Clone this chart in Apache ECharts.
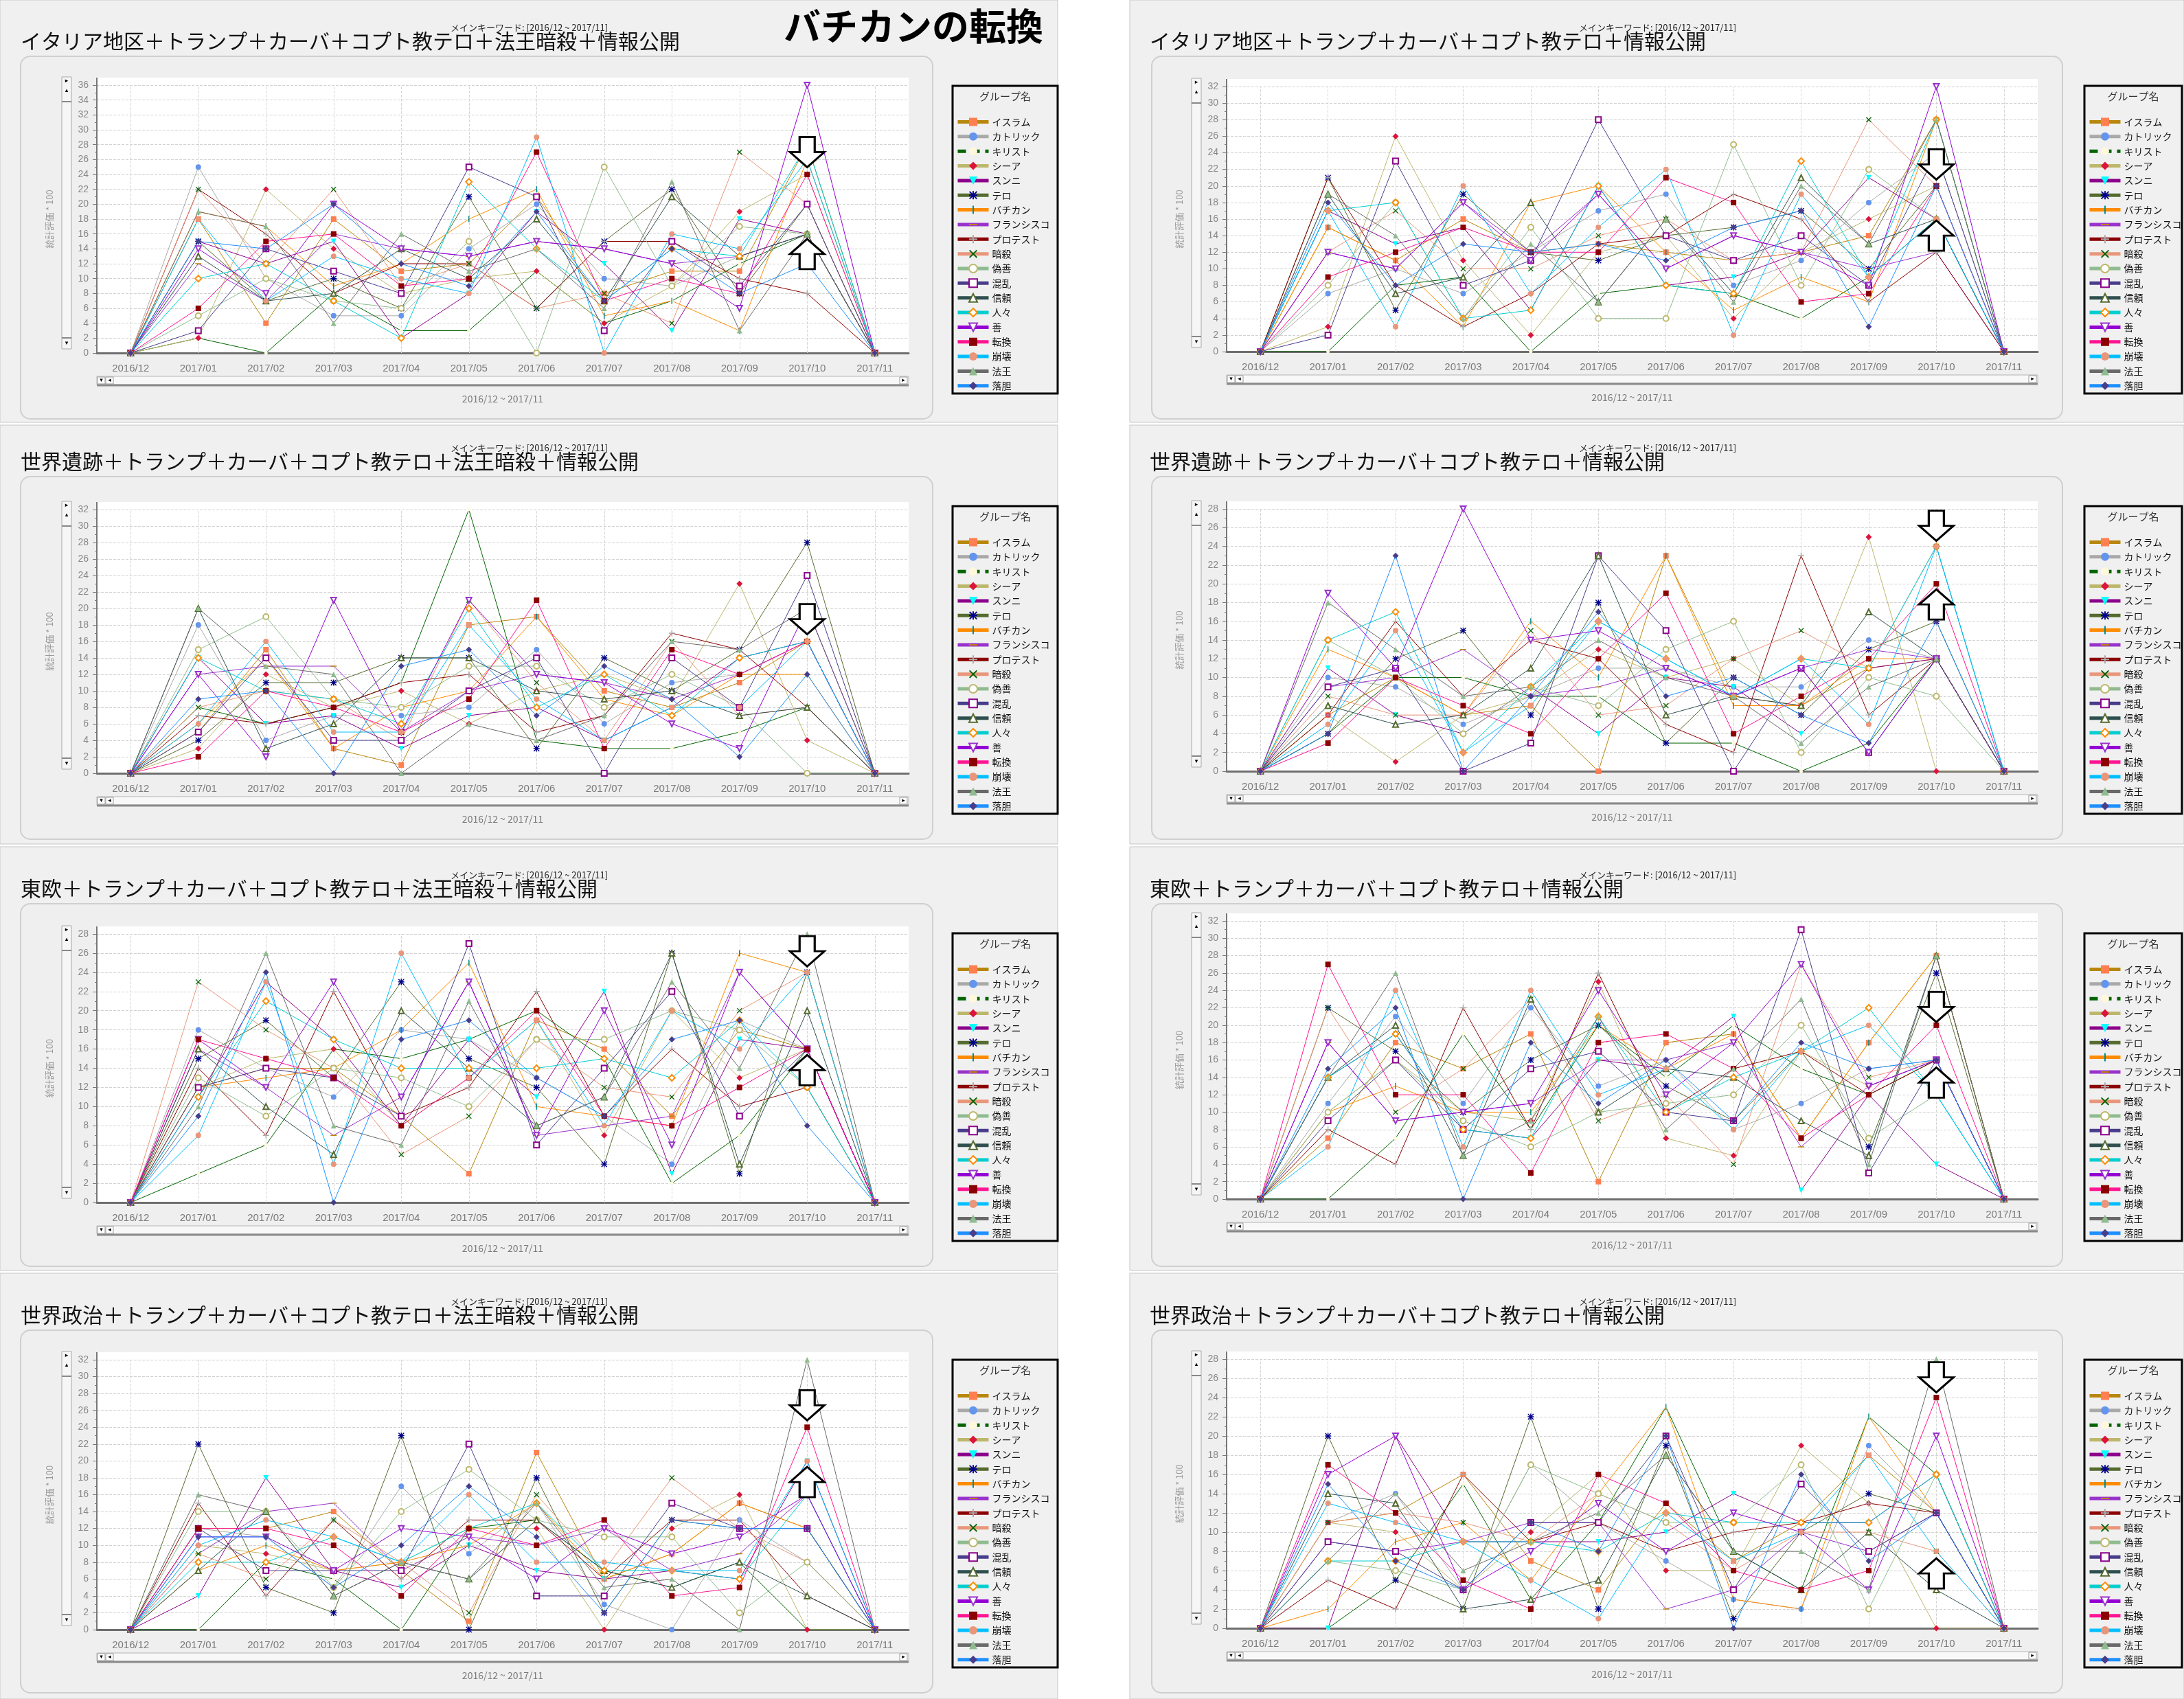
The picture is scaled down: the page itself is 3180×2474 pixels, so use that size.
<!DOCTYPE html>
<html><head><meta charset="utf-8">
<script src="https://cdn.jsdelivr.net/npm/echarts@6/dist/echarts.min.js"></script>
<style>html,body{margin:0;padding:0;background:#fff}#c{width:3180px;height:2474px}</style>
</head><body><div id="c"></div>
<script>
const months = ['2016/12','2017/01','2017/02','2017/03','2017/04','2017/05','2017/06','2017/07','2017/08','2017/09','2017/10','2017/11'];
const groupNames = ['イスラム','カトリック','キリスト','シーア','スンニ','テロ','バチカン','フランシスコ','プロテスト','暗殺','偽善','混乱','信頼','人々','善','転換','崩壊','法王','落胆'];
const panelTitles = [
 'イタリア地区＋トランプ＋カーバ＋コプト教テロ＋法王暗殺＋情報公開',
 'イタリア地区＋トランプ＋カーバ＋コプト教テロ＋情報公開',
 '世界遺跡＋トランプ＋カーバ＋コプト教テロ＋法王暗殺＋情報公開',
 '世界遺跡＋トランプ＋カーバ＋コプト教テロ＋情報公開',
 '東欧＋トランプ＋カーバ＋コプト教テロ＋法王暗殺＋情報公開',
 '東欧＋トランプ＋カーバ＋コプト教テロ＋情報公開',
 '世界政治＋トランプ＋カーバ＋コプト教テロ＋法王暗殺＋情報公開',
 '世界政治＋トランプ＋カーバ＋コプト教テロ＋情報公開'];
const mainTitle = 'バチカンの転換';
const keywordText = 'メインキーワード: [2016/12 ~ 2017/11]';
const yAxisTitle = '統計評価 * 100';
const xAxisTitle = '2016/12 ~ 2017/11';
const yTopTick = [36,32,32,28,28,32,32,28];
const arrowDown = [27,22.6,18.7,26.2,26.2,22.1,26.6,26.1];
const arrowUp = [13.3,14.0,null,17.8,13.8,13.4,17.5,5.7];

// Panel 1
const p1_islam=[0,18,4,18,11,12,21,8,11,11,28,0];
const p1_catholic=[0,25,10,5,5,14,20,10,9,13,16,0];
const p1_christ=[0,2,0,8,3,3,11,4,7,12,16,0];
const p1_shia=[0,2,22,14,8,10,11,4,9,19,24,0];
const p1_sunni=[0,15,12,15,2,8,19,12,3,18,16,0];
const p1_terror=[0,15,7,10,6,21,6,15,22,8,20,0];
const p1_vatican=[0,19,17,9,12,18,22,5,7,3,26,0];
const p1_francis=[0,12,7,16,14,13,15,14,12,13,16,0];
const p1_protest=[0,22,16,8,12,12,6,15,15,10,8,0];
const p1_assassin=[0,22,12,22,9,12,6,8,4,27,20,0];
const p1_hypocrisy=[0,5,10,7,6,15,0,25,9,17,16,0];
const p1_chaos=[0,3,14,11,8,25,21,3,15,9,20,0];
const p1_trust=[0,13,7,8,14,10,18,7,21,13,16,0];
const p1_people=[0,10,12,7,2,23,14,7,14,13,28,0];
const p1_good=[0,14,8,20,14,13,15,14,12,6,36,0];
const p1_turn=[0,6,15,16,9,10,27,7,10,8,24,0];
const p1_collapse=[0,18,7,13,10,8,29,0,16,14,26,0];
const p1_pope=[0,19,17,4,16,11,14,6,23,3,16,0];
const p1_despair=[0,15,14,20,12,9,19,7,14,8,12,0];
// Panel 2
const p2_islam=[0,15,11,16,12,13,12,11,12,14,28,0];
const p2_catholic=[0,7,10,7,12,17,19,8,11,18,24,0];
const p2_christ=[0,0,8,9,0,7,8,7,4,9,16,0];
const p2_shia=[0,3,26,11,2,12,14,4,12,16,20,0];
const p2_sunni=[0,17,13,15,5,20,8,9,12,21,16,0];
const p2_terror=[0,21,5,19,12,11,14,15,17,10,20,0];
const p2_vatican=[0,15,11,3,18,20,12,5,9,6,28,0];
const p2_francis=[0,12,10,18,12,19,10,14,12,10,12,0];
const p2_protest=[0,21,8,3,7,13,14,19,16,6,12,0];
const p2_assassin=[0,12,17,10,10,14,16,11,12,28,20,0];
const p2_hypocrisy=[0,8,18,4,15,4,4,25,8,22,16,0];
const p2_chaos=[0,2,23,8,11,28,14,11,14,8,24,0];
const p2_trust=[0,19,7,9,18,6,16,7,21,13,16,0];
const p2_people=[0,17,18,4,5,20,8,7,23,9,28,0];
const p2_good=[0,12,10,18,11,19,10,14,12,8,32,0];
const p2_turn=[0,9,12,15,12,12,21,18,6,7,20,0];
const p2_collapse=[0,17,3,20,7,15,22,2,19,9,16,0];
const p2_pope=[0,19,14,4,13,6,16,6,20,13,28,0];
const p2_despair=[0,18,8,13,12,13,11,15,17,3,20,0];
// Panel 3
const p3_islam=[0,5,15,3,1,18,19,10,8,11,16,0];
const p3_catholic=[0,18,4,7,7,8,15,6,11,12,16,0];
const p3_christ=[0,8,6,8,11,32,4,3,3,5,8,0];
const p3_shia=[0,3,12,8,10,6,10,12,9,23,4,0];
const p3_sunni=[0,14,6,7,3,7,8,4,8,14,16,0];
const p3_terror=[0,4,11,11,14,14,3,14,10,15,28,0];
const p3_vatican=[0,6,14,3,8,10,19,9,7,12,12,0];
const p3_francis=[0,12,13,13,5,10,12,11,9,12,16,0];
const p3_protest=[0,7,6,8,11,12,5,7,17,15,8,0];
const p3_assassin=[0,8,10,9,4,21,11,4,16,7,8,0];
const p3_hypocrisy=[0,15,19,9,8,13,13,8,12,8,0,0];
const p3_chaos=[0,5,14,4,4,10,14,0,14,8,24,0];
const p3_trust=[0,20,3,6,14,14,10,9,10,7,8,0];
const p3_people=[0,14,10,9,6,20,8,12,7,14,16,0];
const p3_good=[0,12,2,21,5,21,12,11,6,3,20,0];
const p3_turn=[0,2,10,8,5,9,21,3,15,12,16,0];
const p3_collapse=[0,6,16,5,5,18,9,4,8,8,16,0];
const p3_pope=[0,20,13,12,0,6,4,7,16,15,20,0];
const p3_despair=[0,9,10,0,13,15,7,13,9,2,12,0];
// Panel 4
const p4_islam=[0,6,10,6,7,0,23,8,7,11,12,0];
const p4_catholic=[0,10,9,5,8,11,11,9,9,14,12,0];
const p4_christ=[0,4,10,10,8,8,3,3,0,3,12,0];
const p4_shia=[0,6,1,6,8,13,10,12,7,25,0,0];
const p4_sunni=[0,11,6,4,9,4,10,9,4,11,12,0];
const p4_terror=[0,4,12,15,6,18,3,10,6,13,16,0];
const p4_vatican=[0,13,10,6,16,10,23,7,7,12,12,0];
const p4_francis=[0,9,10,13,8,9,11,8,11,13,12,0];
const p4_protest=[0,6,16,8,14,12,5,2,23,6,12,0];
const p4_assassin=[0,8,6,6,15,6,7,12,15,11,24,0];
const p4_hypocrisy=[0,14,10,4,9,7,13,16,2,10,8,0];
const p4_chaos=[0,9,11,0,3,23,15,0,11,2,12,0];
const p4_trust=[0,7,5,6,11,23,6,8,7,17,12,0];
const p4_people=[0,14,17,2,9,16,12,8,12,11,24,0];
const p4_good=[0,19,11,28,14,15,11,8,11,2,12,0];
const p4_turn=[0,3,10,7,4,12,19,4,8,12,20,0];
const p4_collapse=[0,5,15,2,7,16,12,8,12,5,24,0];
const p4_pope=[0,18,13,8,9,14,10,8,3,9,12,0];
const p4_despair=[0,4,23,0,8,17,8,10,6,3,16,0];
// Panel 5
const p5_islam=[0,12,14,14,9,3,19,16,9,18,16,0];
const p5_catholic=[0,18,14,11,18,17,13,9,4,19,16,0];
const p5_christ=[0,3,6,16,15,17,20,15,2,7,16,0];
const p5_shia=[0,12,15,16,8,13,19,7,20,13,16,0];
const p5_sunni=[0,11,23,17,8,17,11,22,3,17,16,0];
const p5_terror=[0,15,19,13,23,15,12,4,26,3,24,0];
const p5_vatican=[0,12,13,14,18,25,10,9,8,26,24,0];
const p5_francis=[0,16,12,7,11,23,7,8,9,24,16,0];
const p5_protest=[0,14,7,22,9,12,22,9,16,10,12,0];
const p5_assassin=[0,23,18,14,5,9,17,12,11,20,24,0];
const p5_hypocrisy=[0,13,9,14,13,10,17,17,20,18,12,0];
const p5_chaos=[0,12,14,13,9,27,6,14,22,9,16,0];
const p5_trust=[0,16,10,5,20,14,8,11,26,4,20,0];
const p5_people=[0,11,21,17,14,14,14,15,13,19,12,0];
const p5_good=[0,17,12,23,11,23,7,20,6,24,16,0];
const p5_turn=[0,17,15,13,8,13,20,9,8,12,16,0];
const p5_collapse=[0,7,23,4,26,13,19,8,20,16,24,0];
const p5_pope=[0,10,26,8,6,21,8,11,23,14,28,0];
const p5_despair=[0,9,24,0,17,19,13,9,17,19,8,0];
// Panel 6
const p6_islam=[0,7,18,15,19,2,18,19,7,18,28,0];
const p6_catholic=[0,11,21,11,22,13,16,8,11,15,16,0];
const p6_christ=[0,0,7,19,8,20,14,20,15,12,16,0];
const p6_shia=[0,10,16,10,9,25,7,5,17,13,16,0];
const p6_sunni=[0,14,19,8,7,16,15,21,1,12,4,0];
const p6_terror=[0,22,17,10,16,20,13,9,17,6,26,0];
const p6_vatican=[0,10,13,10,10,20,15,19,7,18,28,0];
const p6_francis=[0,18,9,10,11,16,16,18,6,13,16,0];
const p6_protest=[0,8,4,22,8,26,10,15,17,12,16,0];
const p6_assassin=[0,22,10,15,23,9,12,4,27,14,16,0];
const p6_hypocrisy=[0,10,16,9,6,10,11,12,20,7,12,0];
const p6_chaos=[0,9,16,8,15,17,10,9,31,3,16,0];
const p6_trust=[0,14,20,5,23,10,15,14,9,5,28,0];
const p6_people=[0,14,19,8,7,21,10,14,17,22,12,0];
const p6_good=[0,18,9,10,11,24,12,18,27,13,16,0];
const p6_turn=[0,27,12,12,3,18,19,15,7,12,20,0];
const p6_collapse=[0,6,24,6,24,12,15,8,17,20,12,0];
const p6_pope=[0,14,26,5,9,21,8,15,23,4,28,0];
const p6_despair=[0,15,22,0,18,11,16,9,18,15,16,0];
// Panel 7
const p7_islam=[0,12,12,14,7,1,21,6,9,15,12,0];
const p7_catholic=[0,12,11,5,17,9,15,3,0,13,8,0];
const p7_christ=[0,0,8,6,0,12,13,7,5,8,0,0];
const p7_shia=[0,10,9,7,8,12,12,0,12,16,0,0];
const p7_sunni=[0,4,18,7,5,10,7,6,7,6,20,0];
const p7_terror=[0,22,5,2,23,0,18,2,13,12,12,0];
const p7_vatican=[0,7,10,7,8,10,15,6,9,15,12,0];
const p7_francis=[0,9,14,15,7,11,10,12,7,9,16,0];
const p7_protest=[0,15,4,13,6,13,13,6,13,13,4,0];
const p7_assassin=[0,9,6,13,8,2,16,7,18,12,8,0];
const p7_hypocrisy=[0,14,14,5,14,19,13,11,11,2,8,0];
const p7_chaos=[0,12,7,7,7,22,4,4,15,12,12,0];
const p7_trust=[0,7,14,4,8,6,13,7,5,8,4,0];
const p7_people=[0,8,8,11,8,12,15,7,7,6,16,0];
const p7_good=[0,11,11,7,12,11,6,12,9,11,16,0];
const p7_turn=[0,12,12,10,4,12,10,13,4,5,24,0];
const p7_collapse=[0,10,13,11,8,16,8,8,7,7,20,0];
const p7_pope=[0,16,14,4,8,6,15,5,6,0,32,0];
const p7_despair=[0,11,11,5,10,17,11,2,13,12,12,0];
// Panel 8
const p8_islam=[0,11,12,16,7,4,13,7,11,18,12,0];
const p8_catholic=[0,11,14,4,17,11,7,3,2,19,12,0];
const p8_christ=[0,0,5,15,3,11,23,8,4,22,16,0];
const p8_shia=[0,11,10,4,10,16,6,6,19,13,0,0];
const p8_sunni=[0,0,20,9,9,9,10,14,11,11,16,0];
const p8_terror=[0,20,5,2,22,2,19,1,10,14,12,0];
const p8_vatican=[0,2,9,11,5,14,23,3,2,22,12,0];
const p8_francis=[0,9,8,9,11,11,2,4,10,8,12,0];
const p8_protest=[0,5,2,16,9,11,8,10,11,13,12,0];
const p8_assassin=[0,11,12,11,9,14,11,6,10,10,8,0];
const p8_hypocrisy=[0,7,6,4,17,14,11,11,17,2,16,0];
const p8_chaos=[0,9,8,4,11,11,20,4,15,8,12,0];
const p8_trust=[0,14,13,2,3,5,18,8,4,10,4,0];
const p8_people=[0,7,7,9,9,8,12,11,11,11,16,0];
const p8_good=[0,16,20,4,8,13,8,12,10,4,20,0];
const p8_turn=[0,17,12,5,2,16,13,6,4,6,24,0];
const p8_collapse=[0,13,11,9,5,1,12,7,10,18,8,0];
const p8_pope=[0,7,14,6,9,12,18,8,8,4,28,0];
const p8_despair=[0,15,7,4,11,8,20,0,16,7,12,0];

const panelData = [
 [p1_islam,p1_catholic,p1_christ,p1_shia,p1_sunni,p1_terror,p1_vatican,p1_francis,p1_protest,p1_assassin,p1_hypocrisy,p1_chaos,p1_trust,p1_people,p1_good,p1_turn,p1_collapse,p1_pope,p1_despair],
 [p2_islam,p2_catholic,p2_christ,p2_shia,p2_sunni,p2_terror,p2_vatican,p2_francis,p2_protest,p2_assassin,p2_hypocrisy,p2_chaos,p2_trust,p2_people,p2_good,p2_turn,p2_collapse,p2_pope,p2_despair],
 [p3_islam,p3_catholic,p3_christ,p3_shia,p3_sunni,p3_terror,p3_vatican,p3_francis,p3_protest,p3_assassin,p3_hypocrisy,p3_chaos,p3_trust,p3_people,p3_good,p3_turn,p3_collapse,p3_pope,p3_despair],
 [p4_islam,p4_catholic,p4_christ,p4_shia,p4_sunni,p4_terror,p4_vatican,p4_francis,p4_protest,p4_assassin,p4_hypocrisy,p4_chaos,p4_trust,p4_people,p4_good,p4_turn,p4_collapse,p4_pope,p4_despair],
 [p5_islam,p5_catholic,p5_christ,p5_shia,p5_sunni,p5_terror,p5_vatican,p5_francis,p5_protest,p5_assassin,p5_hypocrisy,p5_chaos,p5_trust,p5_people,p5_good,p5_turn,p5_collapse,p5_pope,p5_despair],
 [p6_islam,p6_catholic,p6_christ,p6_shia,p6_sunni,p6_terror,p6_vatican,p6_francis,p6_protest,p6_assassin,p6_hypocrisy,p6_chaos,p6_trust,p6_people,p6_good,p6_turn,p6_collapse,p6_pope,p6_despair],
 [p7_islam,p7_catholic,p7_christ,p7_shia,p7_sunni,p7_terror,p7_vatican,p7_francis,p7_protest,p7_assassin,p7_hypocrisy,p7_chaos,p7_trust,p7_people,p7_good,p7_turn,p7_collapse,p7_pope,p7_despair],
 [p8_islam,p8_catholic,p8_christ,p8_shia,p8_sunni,p8_terror,p8_vatican,p8_francis,p8_protest,p8_assassin,p8_hypocrisy,p8_chaos,p8_trust,p8_people,p8_good,p8_turn,p8_collapse,p8_pope,p8_despair]
];

// ---------- styles & layout ----------
const FONT = '"Noto Sans CJK JP", "Noto Sans", sans-serif';
const CORN = 'M0,0L0.1,0L0,0.1ZM10,10L9.9,10L10,9.9Z';
const VB = 'M4.2,0L5.8,0L5.8,10L4.2,10Z';
const HB = 'M0,4.2L10,4.2L10,5.8L0,5.8Z';
const XB = 'M0,1.1L1.1,0L10,8.9L8.9,10ZM8.9,0L10,1.1L1.1,10L0,8.9Z';
const SYM_VBAR = 'path://' + CORN + VB;
const SYM_HBAR = 'path://' + CORN + HB;
const SYM_PLUS = 'path://' + CORN + VB + HB;
const SYM_CROSS = 'path://' + XB;
const SYM_STAR = 'path://' + VB + HB + XB;
const STYLE = [
 {line:'#B8860B', mk:'#FF7F50', sym:'rect', size:8},
 {line:'#A9A9A9', mk:'#6495ED', sym:'circle', size:8},
 {line:'#006400', mk:'#FFF8DC', sym:'circle', legendDash:true, size:5},
 {line:'#BDB76B', mk:'#DC143C', sym:'diamond', size:9},
 {line:'#8B008B', mk:'#00FFFF', sym:'triangle', rot:180, size:8},
 {line:'#556B2F', mk:'#00008B', sym:SYM_STAR, size:9},
 {line:'#FF8C00', mk:'#008B8B', sym:SYM_VBAR, size:9},
 {line:'#9932CC', mk:'#B8860B', sym:SYM_HBAR, size:9},
 {line:'#8B0000', mk:'#A9A9A9', sym:SYM_PLUS, size:9},
 {line:'#E9967A', mk:'#006400', sym:SYM_CROSS, size:8},
 {line:'#8FBC8F', mk:'#BDB76B', sym:'emptyCircle', size:8},
 {line:'#483D8B', mk:'#8B008B', sym:'emptyRect', size:8},
 {line:'#2F4F4F', mk:'#556B2F', sym:'emptyTriangle', size:8},
 {line:'#00CED1', mk:'#FF8C00', sym:'emptyDiamond', size:9},
 {line:'#9400D3', mk:'#9932CC', sym:'emptyTriangle', rot:180, size:8},
 {line:'#FF1493', mk:'#8B0000', sym:'rect', size:8},
 {line:'#00BFFF', mk:'#E9967A', sym:'circle', size:8},
 {line:'#696969', mk:'#8FBC8F', sym:'triangle', size:8},
 {line:'#1E90FF', mk:'#483D8B', sym:'diamond', size:9}
];
const COLS = [
 {x0:0, x1:1540, gl:141, gw:1182, boxX:30, boxW:1328, titleX:30, kwX:656, legX:1392, legBoxX:1387, legBoxW:153},
 {x0:1645, x1:3180, gl:1786, gw:1181, boxX:1677, boxW:1326, titleX:1674, kwX:2299, legX:3040, legBoxX:3035, legBoxW:142}
];
const ROWS = [0, 612, 1234, 1855];
const ROW_BG = [[0,615],[619,1229],[1233,1850],[1854,2474]];
const PLOT = [
 {col:0,row:0,top:124,zero:514},{col:1,row:0,top:126,zero:512},
 {col:0,row:1,top:742,zero:1126},{col:1,row:1,top:741,zero:1123},
 {col:0,row:2,top:1360,zero:1751},{col:1,row:2,top:1341,zero:1746},
 {col:0,row:3,top:1980,zero:2373},{col:1,row:3,top:1979,zero:2371}
];
const ARROW_DOWN = 'path://M14,0L36,0L36,22L50,22L25,44L0,22L14,22Z';
const ARROW_UP = 'path://M25,0L50,22L36,22L36,44L14,44L14,22L0,22Z';

function txt(text, x, y, font, fill, align, z){
  return {type:'text', z: z||5, silent:true, style:{text, x, y, font, fill,
    textAlign: align||'left', align: align||'left', textVerticalAlign:'middle', verticalAlign:'middle'}};
}
const g = [];
ROW_BG.forEach((rb, r) => COLS.forEach(c => {
  g.push({type:'rect', z:-100, silent:true, shape:{x:c.x0, y:rb[0], width:c.x1-c.x0, height:rb[1]-rb[0]}, style:{fill:'#f0f0f0', stroke:'#c6c6c6', lineWidth:1}});
  g.push({type:'rect', z:-95, silent:true, shape:{x:c.boxX, y:ROWS[r]+82, width:c.boxW, height:528, r:14}, style:{fill:'#efefef', stroke:'#cfcfcf', lineWidth:2}});
}));
g.push(txt(mainTitle, 1141, 38, 'bold 54px ' + FONT, '#000', 'left', 6));

PLOT.forEach((P, i) => {
  const c = COLS[P.col], rt = ROWS[P.row];
  const gl = c.gl, gw = c.gw, top = P.top, zero = P.zero;
  g.push(txt(panelTitles[i], c.titleX, rt + 60, '30px ' + FONT, '#111', 'left', 5));
  g.push(txt(keywordText, c.kwX, rt + 40, '13px ' + FONT, '#222', 'left', 6));
  g.push({type:'rect', z:-80, silent:true, shape:{x:gl, y:top-11, width:gw, height:zero-top+11}, style:{fill:'#fff'}});
  g.push({type:'line', z:-70, silent:true, shape:{x1:gl, y1:top-11, x2:gl, y2:top}, style:{stroke:'#777', lineWidth:2}});
  g.push({type:'rect', z:-60, silent:true, shape:{x:c.legBoxX, y:rt+125, width:c.legBoxW, height:448}, style:{fill:'#f0f0f0', stroke:'#000', lineWidth:3}});
  g.push(txt('グループ名', c.legBoxX + c.legBoxW/2, rt + 140, '15px ' + FONT, '#333', 'center', 6));
  g.push({type:'rect', z:-60, silent:true, shape:{x:gl, y:zero+34, width:gw, height:12}, style:{fill:'#f8f8f8', stroke:'#b4b4b4', lineWidth:1}});
  g.push({type:'line', z:-59, silent:true, shape:{x1:gl, y1:zero+47, x2:gl+gw, y2:zero+47}, style:{stroke:'#8a8a8a', lineWidth:3}});
  [[gl+1,'▾'],[gl+13,'◂'],[gl+gw-13,'▸']].forEach(b => {
    g.push({type:'rect', z:-58, silent:true, shape:{x:b[0], y:zero+35, width:11, height:10}, style:{fill:'#fff', stroke:'#999', lineWidth:1}});
    g.push(txt(b[1], b[0]+5.5, zero+40, '9px "DejaVu Sans"', '#000', 'center', -57));
  });
  const vx = gl - 51;
  g.push({type:'rect', z:-60, silent:true, shape:{x:vx, y:top-12, width:14, height:zero-top+6}, style:{fill:'#f6f6f6', stroke:'#a8a8a8', lineWidth:1}});
  [[top-6,'▸'],[top+8,'▴'],[zero-14,'▾']].forEach(b => {
    g.push(txt(b[1], vx+7, b[0], '9px "DejaVu Sans"', '#000', 'center', -57));
  });
  g.push({type:'line', z:-58, silent:true, shape:{x1:vx, y1:top+24, x2:vx+14, y2:top+24}, style:{stroke:'#888', lineWidth:2}});
  g.push({type:'line', z:-58, silent:true, shape:{x1:vx, y1:zero-22, x2:vx+14, y2:zero-22}, style:{stroke:'#888', lineWidth:2}});
});

const legendItems = groupNames.map((n, k) => STYLE[k].legendDash ? {name:n, lineStyle:{type:[12,8]}} : {name:n});
const grid = [], xAxis = [], yAxis = [], legend = [], series = [];
PLOT.forEach((P, i) => {
  const c = COLS[P.col], rt = ROWS[P.row];
  grid.push({left:c.gl, top:P.top, width:c.gw, height:P.zero-P.top, containLabel:false});
  xAxis.push({type:'category', gridIndex:i, data:months, boundaryGap:true,
    axisLine:{lineStyle:{color:'#6e6e6e', width:3}},
    axisTick:{alignWithLabel:true, length:7, lineStyle:{color:'#777', width:1.5}},
    axisLabel:{color:'#7a7a7a', fontSize:15, margin:15, fontFamily:'"Liberation Sans", sans-serif'},
    splitLine:{show:false},
    name:xAxisTitle, nameLocation:'middle', nameGap:60,
    nameTextStyle:{color:'#7a7a7a', fontSize:14, fontFamily:FONT}});
  yAxis.push({type:'value', gridIndex:i, min:0, max:yTopTick[i], interval:2,
    axisLine:{show:true, lineStyle:{color:'#777', width:2}},
    axisTick:{show:true, length:6, lineStyle:{color:'#777'}},
    minorTick:{show:true, splitNumber:2, length:3, lineStyle:{color:'#777'}},
    axisLabel:{color:'#888', fontSize:14, margin:12, fontFamily:'"Liberation Sans", sans-serif'},
    splitLine:{lineStyle:{type:'dashed', color:'#d2d2d2'}},
    name:yAxisTitle, nameLocation:'middle', nameGap:62,
    nameTextStyle:{color:'#999', fontSize:13, fontFamily:FONT}});
  legend.push({orient:'vertical', left:c.legX, top:rt+170.5, itemWidth:45, itemHeight:15, itemGap:7.35,
    data:legendItems, selectedMode:false, textStyle:{fontSize:14, color:'#111', fontFamily:FONT},
    lineStyle:{width:5}, padding:0});
  panelData[i].forEach((arr, k) => {
    const s = STYLE[k];
    const isEmpty = s.sym.indexOf('empty') === 0;
    series.push({type:'line', name:groupNames[k], xAxisIndex:i, yAxisIndex:i, data:arr,
      symbol:s.sym, symbolSize:s.size||8, symbolRotate:s.rot||0, symbolKeepAspect:true,
      showAllSymbol:true, silent:true,
      lineStyle:{color:s.line, width:1, type:'solid'},
      itemStyle:{color:s.mk, borderWidth:isEmpty?1.5:0},
      emphasis:{disabled:true}, z:2});
  });
  const mp = [{coord:['2017/10', arrowDown[i]], symbol:ARROW_DOWN}];
  if (arrowUp[i] !== null) mp.push({coord:['2017/10', arrowUp[i]], symbol:ARROW_UP});
  series.push({type:'line', name:'_grid'+i, xAxisIndex:i, yAxisIndex:i, data:[], silent:true, z:1,
    markLine:{silent:true, symbol:'none', z:1, animation:false, label:{show:false},
      lineStyle:{color:'#d6d6d6', type:'dashed', width:1},
      data: months.map(m => ({xAxis:m}))},
    markPoint:{silent:true, z:10, animation:false, symbolSize:[50,44], symbolKeepAspect:false,
      label:{show:false}, itemStyle:{color:'#fff', borderColor:'#000', borderWidth:3},
      data: mp}});
});

const chart = echarts.init(document.getElementById('c'), null, {renderer:'canvas'});
chart.setOption({animation:false, backgroundColor:'#fff', textStyle:{fontFamily:FONT},
  graphic:{elements:g}, grid, xAxis, yAxis, legend, series});
</script></body></html>
